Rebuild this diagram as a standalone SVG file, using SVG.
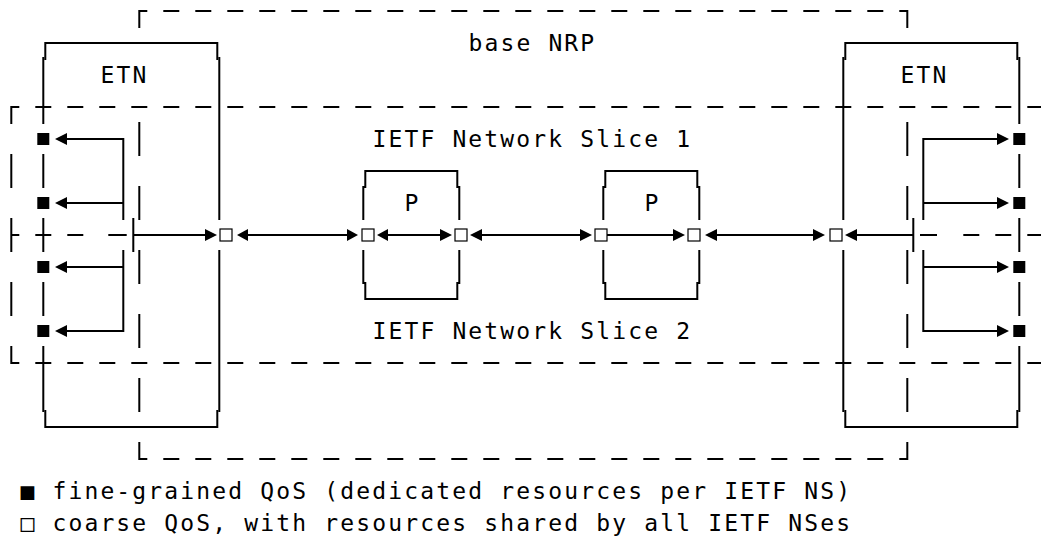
<svg xmlns="http://www.w3.org/2000/svg" width="1041" height="536" viewBox="0 0 1041 536">
<style>
.s{fill:none;stroke:#000;stroke-width:2}
.d{fill:none;stroke:#000;stroke-width:2;stroke-dasharray:16 16}
.t{font-family:"DejaVu Sans Mono",monospace;font-size:23px;letter-spacing:2.15px;fill:#000}
.ah{fill:#000}
.fq{fill:#000}
.cq{fill:#fff;stroke:#000;stroke-width:1.2}
</style>
<rect width="1041" height="536" fill="#fff"/>

<g id="base-nrp">
<path class="s" d="M139.3 28V11H147.3M899.3 11H907.3V28M139.3 442V459H147.3M899.3 459H907.3V442"/>
<path class="d" d="M163.3 11H883.3M163.3 459H883.3"/>
<path class="s" d="M139.3 122V156M139.3 186V220M139.3 250V284M139.3 314V348M139.3 378V412M133.3 218V252"/>
<path class="s" d="M907.3 122V156M907.3 186V220M907.3 250V284M907.3 314V348M907.3 378V412M913.3 218V252"/>
<text class="t" x="468.4" y="51">base NRP</text>
</g>

<g id="ietf-network-slices">
<path class="s" d="M11.3 124V107H19.3M11.3 346V363H19.3M11.3 154V188M11.3 218V252M11.3 235H19.3M11.3 282V316"/>
<path class="d" d="M35.3 107H1051.3M35.3 363H1051.3M35.3 235H83.3"/>
<path class="s" d="M108.3 235H126.7M920 235H937"/>
<path class="d" d="M963.3 235H1051.3"/>
<text class="t" x="372.4" y="147">IETF Network Slice 1</text>
<text class="t" x="372.4" y="339">IETF Network Slice 2</text>
</g>

<g id="etn-left">
<path class="s" d="M45.3 60V43H217.3V60M45.3 410V427H217.3V410"/>
<path class="s" d="M43.3 57V124M43.3 154V188M43.3 218V252M43.3 282V316M43.3 346V412"/>
<path class="s" d="M219.3 57V220M219.3 250V412"/>
<rect class="fq" x="37.3" y="133" width="12" height="12"/>
<rect class="fq" x="37.3" y="197" width="12" height="12"/>
<rect class="fq" x="37.3" y="261" width="12" height="12"/>
<rect class="fq" x="37.3" y="325" width="12" height="12"/>
<rect class="cq" x="220" y="229" width="12" height="12"/>
<text class="t" x="100.4" y="83">ETN</text>
</g>

<g id="etn-right">
<path class="s" d="M845.3 60V43H1017.3V60M845.3 410V427H1017.3V410"/>
<path class="s" d="M843.3 57V220M843.3 250V412"/>
<path class="s" d="M1019.3 57V124M1019.3 154V188M1019.3 218V252M1019.3 282V316M1019.3 346V412"/>
<rect class="fq" x="1013.3" y="133" width="12" height="12"/>
<rect class="fq" x="1013.3" y="197" width="12" height="12"/>
<rect class="fq" x="1013.3" y="261" width="12" height="12"/>
<rect class="fq" x="1013.3" y="325" width="12" height="12"/>
<rect class="cq" x="830" y="229" width="12" height="12"/>
<text class="t" x="900.4" y="83">ETN</text>
</g>

<g id="p1">
<path class="s" d="M365.3 188V171H457.3V188M365.3 282V299H457.3V282M363.3 186V220M363.3 250V284M459.3 186V220M459.3 250V284"/>
<rect class="cq" x="362" y="229" width="12" height="12"/>
<rect class="cq" x="455" y="229" width="12" height="12"/>
<text class="t" x="404.4" y="211">P</text>
</g>

<g id="p2">
<path class="s" d="M605.3 188V171H697.3V188M605.3 282V299H697.3V282M603.3 186V220M603.3 250V284M699.3 186V220M699.3 250V284"/>
<rect class="cq" x="595" y="229" width="12" height="12"/>
<rect class="cq" x="688" y="229" width="12" height="12"/>
<text class="t" x="644.4" y="211">P</text>
</g>

<g id="connectors">
<path class="s" d="M67 139H123.3V220M67 203H123.3M123.3 250V331H67M67 267H123.3"/>
<polygon class="ah" points="55,139 67,133 67,145"/>
<polygon class="ah" points="55,203 67,197 67,209"/>
<polygon class="ah" points="55,267 67,261 67,273"/>
<polygon class="ah" points="55,331 67,325 67,337"/>
<path class="s" d="M997 139H923.3V220M997 203H923.3M923.3 250V331H997M997 267H923.3"/>
<polygon class="ah" points="1009,139 997,133 997,145"/>
<polygon class="ah" points="1009,203 997,197 997,209"/>
<polygon class="ah" points="1009,267 997,261 997,273"/>
<polygon class="ah" points="1009,331 997,325 997,337"/>
<path class="s" d="M133.3 235H206M247 235H348M387 235H441M481 235H581M607 235H674M716 235H814M856 235H913.3"/>
<polygon class="ah" points="217,235 205,229 205,241"/>
<polygon class="ah" points="237,235 248,229 248,241"/>
<polygon class="ah" points="358,235 347,229 347,241"/>
<polygon class="ah" points="377,235 388,229 388,241"/>
<polygon class="ah" points="452,235 440,229 440,241"/>
<polygon class="ah" points="470,235 482,229 482,241"/>
<polygon class="ah" points="592,235 580,229 580,241"/>
<polygon class="ah" points="685,235 673,229 673,241"/>
<polygon class="ah" points="705,235 717,229 717,241"/>
<polygon class="ah" points="825,235 813,229 813,241"/>
<polygon class="ah" points="845,235 857,229 857,241"/>
</g>

<g id="legend">
<text class="t" x="20.4" y="499">■ fine-grained QoS (dedicated resources per IETF NS)</text>
<text class="t" x="20.4" y="531">□ coarse QoS, with resources shared by all IETF NSes</text>
</g>
</svg>
